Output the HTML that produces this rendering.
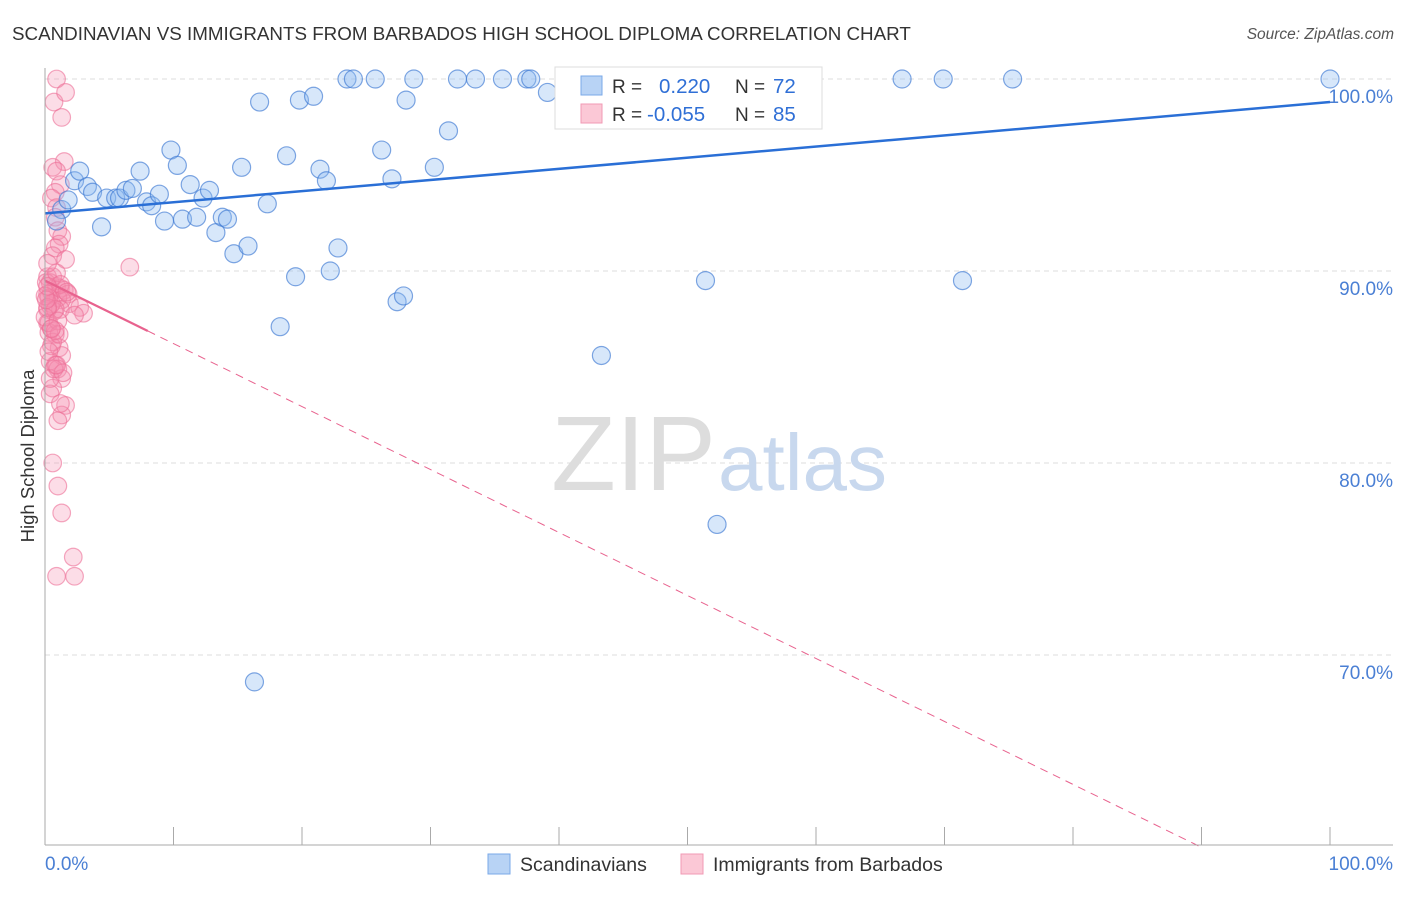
<!DOCTYPE html>
<html><head><meta charset="utf-8"><style>
body{margin:0;background:#fff;font-family:"Liberation Sans",sans-serif}
svg text{font-family:"Liberation Sans",sans-serif}
</style></head><body>
<svg width="1406" height="892" viewBox="0 0 1406 892">
<text x="12" y="40" font-size="18.8" fill="#333">SCANDINAVIAN VS IMMIGRANTS FROM BARBADOS HIGH SCHOOL DIPLOMA CORRELATION CHART</text>
<text x="1394" y="39" font-size="15.5" fill="#555" font-style="italic" text-anchor="end">Source: ZipAtlas.com</text>
<g id="grid"></g>
<text x="716" y="490" font-size="106" fill="#ddd" text-anchor="end" font-family="Liberation Serif">ZIP</text>
<text x="718" y="490" font-size="80" fill="#c8d8ee">atlas</text>
<g id="pts"></g>
<g id="lines"></g>
<line x1="45" y1="68" x2="45" y2="845" stroke="#aaa"/>
<line x1="45" y1="845" x2="1393" y2="845" stroke="#aaa"/>
<text transform="translate(34,456) rotate(-90)" font-size="18.5" fill="#333" text-anchor="middle">High School Diploma</text>
<text x="45" y="870" font-size="19" fill="#4a7fd4">0.0%</text>
<text x="1393" y="870" font-size="19" fill="#4a7fd4" text-anchor="end">100.0%</text>
<g>
<rect x="555" y="67" width="267" height="62" fill="#fff" stroke="#ddd"/>
<rect x="581" y="76" width="21" height="19" fill="#b8d3f5" stroke="#7aa8e8"/>
<rect x="581" y="104" width="21" height="19" fill="#fbc8d6" stroke="#f09ab4"/>
<text x="612" y="93" font-size="19" fill="#333">R = <tspan x="659" fill="#2f6fd6" font-size="20.5">0.220</tspan><tspan x="735">N = </tspan><tspan x="773" fill="#2f6fd6" font-size="20.5">72</tspan></text>
<text x="612" y="121" font-size="19" fill="#333">R = <tspan x="647" fill="#2f6fd6" font-size="20.5">-0.055</tspan><tspan x="735">N = </tspan><tspan x="773" fill="#2f6fd6" font-size="20.5">85</tspan></text>
</g>
<g>
<rect x="488" y="854" width="22" height="20" fill="#b8d3f5" stroke="#7aa8e8"/>
<text x="520" y="871" font-size="19.5" fill="#333">Scandinavians</text>
<rect x="681" y="854" width="22" height="20" fill="#fbc8d6" stroke="#f09ab4"/>
<text x="713" y="871" font-size="19.5" fill="#333">Immigrants from Barbados</text>
</g>
</svg>
<script>
const yTicks=[100,90,80,70];
const xTicks=[0,10,20,30,40,50,60,70,80,90,100];
const blueX=[1.3,1.8,0.9,2.3,2.7,3.3,3.7,4.4,4.8,5.5,5.8,6.3,6.8,7.4,7.9,8.3,8.9,9.3,9.8,10.3,10.7,11.3,11.8,12.3,12.8,13.3,13.8,14.2,14.7,15.3,15.8,16.3,16.7,17.3,18.3,18.8,19.5,19.8,20.9,21.4,21.9,22.2,22.8,23.5,24,25.7,26.2,27,27.4,27.9,28.1,28.7,30.3,31.4,32.1,33.5,35.6,37.5,37.8,39.1,42.2,43.3,47.1,48.5,51.4,52.3,66.7,69.9,71.4,75.3,100];
const blueY=[93.2,93.7,92.6,94.7,95.2,94.4,94.1,92.3,93.8,93.8,93.8,94.2,94.3,95.2,93.6,93.4,94.0,92.6,96.3,95.5,92.7,94.5,92.8,93.8,94.2,92.0,92.8,92.7,90.9,95.4,91.3,68.6,98.8,93.5,87.1,96.0,89.7,98.9,99.1,95.3,94.7,90.0,91.2,100,100,100,96.3,94.8,88.4,88.7,98.9,100,95.4,97.3,100,100,100,100,100,99.3,100,85.6,100,100,89.5,76.8,100,100,89.5,100,100];
const pinkX=[0.9,0.7,1.6,1.3,1.5,0.6,0.9,1.2,0.8,0.5,0.9,0.8,1.0,1.3,1.1,0.8,0.6,1.6,6.6,0.2,0.4,0.9,1.2,0.5,0.2,1.5,1.8,1.9,1.0,1.3,2.7,3.0,0.4,0.7,1.2,2.3,0.2,0.5,0.8,0.3,1.1,1.3,0.4,0.8,1.0,1.3,0.6,0.4,1.6,1.3,1.0,0.6,1.0,1.3,2.2,0.9,2.3,0.1,0.3,0.5,0.2,0.3,0.6,0.9,0.2,0.8,0,1.2,0.5,0,0.2,1.0,0.4,0.7,1.4,0.1,0.6,1.1,0.3,0.8,0.2,1.7,0.5,0.9,1.2];
const pinkY=[100,98.8,99.3,98.0,95.7,95.4,95.2,94.5,94.1,93.8,93.3,92.8,92.1,91.8,91.4,91.2,90.8,90.6,90.2,89.7,89.4,89.2,89.1,88.9,88.8,89.0,88.8,88.3,88.6,88.5,88.1,87.8,88.2,87.9,88.0,87.7,87.3,87.0,86.7,86.8,86.0,85.6,85.3,85.1,84.9,84.4,83.9,83.6,83.0,82.5,82.2,80.0,78.8,77.4,75.1,74.1,74.1,89.4,88.6,88.3,88.0,87.3,89.7,89.9,90.4,88.0,87.6,89.3,86.1,88.7,88.1,87.4,84.4,84.9,84.7,88.5,86.3,86.7,85.8,86.9,89.2,88.9,87.0,85.1,83.1];
const blueTrend=[93.0,98.8];
const pinkTrend=[89.5,56.7];
const NS='http://www.w3.org/2000/svg';
const X0=45,X1=1330,Y100=79,PXY=19.2;
const xs=v=>X0+(X1-X0)*v/100;
const ys=v=>Y100+(100-v)*PXY;
function mk(t,a,p){const e=document.createElementNS(NS,t);for(const k in a)e.setAttribute(k,a[k]);p.appendChild(e);return e;}
const grid=document.getElementById('grid');
yTicks.forEach(t=>{
 const l=mk('line',{x1:45,x2:1393,y1:ys(t),y2:ys(t),stroke:'#ddd','stroke-dasharray':'5,4'},grid);
 
 
 const tx=mk('text',{x:1393,y:ys(t)+24,'font-size':19,fill:'#4a7fd4','text-anchor':'end'},grid);
 tx.textContent=t.toFixed(1)+'%';
 
 
});
xTicks.forEach(t=>{
 const l=mk('line',{x1:xs(t),x2:xs(t),y1:827,y2:845,stroke:'#aaa'},grid);
 
 
});
const pts=document.getElementById('pts');
pinkX.forEach((x,i)=>{
 const c=mk('circle',{cx:xs(x),cy:ys(pinkY[i]),r:8.8,fill:'rgba(244,143,177,0.3)',stroke:'rgba(236,110,150,0.6)','stroke-width':1.2},pts);
 
 
});
blueX.forEach((x,i)=>{
 const c=mk('circle',{cx:xs(x),cy:ys(blueY[i]),r:9,fill:'rgba(140,185,240,0.35)',stroke:'rgba(60,120,210,0.65)','stroke-width':1.2},pts);
 
 
});
const lines=document.getElementById('lines');
const bl=mk('line',{x1:xs(0),y1:ys(blueTrend[0]),x2:xs(100),y2:ys(blueTrend[1]),stroke:'#2a6fd6','stroke-width':2.5},lines);


const pAt=x=>pinkTrend[0]+(pinkTrend[1]-pinkTrend[0])*x/100;
const ps=mk('line',{x1:xs(0),y1:ys(pAt(0)),x2:xs(8),y2:ys(pAt(8)),stroke:'#e8628e','stroke-width':2.2},lines);


const pd=mk('line',{x1:xs(8),y1:ys(pAt(8)),x2:xs(90),y2:ys(pAt(90)),stroke:'#e8628e','stroke-width':1,'stroke-dasharray':'8,6'},lines);


</script>
</body></html>
